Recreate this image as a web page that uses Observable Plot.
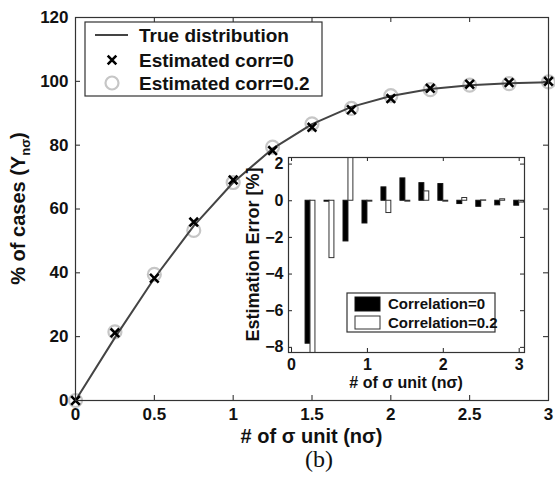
<!DOCTYPE html>
<html>
<head>
<meta charset="utf-8">
<script src="https://cdn.jsdelivr.net/npm/d3@7"></script>
<script src="https://cdn.jsdelivr.net/npm/@observablehq/plot@0.6"></script>
<style>
  body { margin: 0; background: #fff; }
  #wrap { position: relative; width: 555px; height: 493px; }
  #wrap svg { position: absolute; }
</style>
</head>
<body>
<div id="wrap"></div>
<script>
// Cumulative share of cases within n sigma: true curve and two estimates
const sigmaUnits = [0, 0.25, 0.5, 0.75, 1, 1.25, 1.5, 1.75, 2, 2.25, 2.5, 2.75, 3];
const trueDist   = [0, 19.7, 38.3, 54.7, 68.3, 78.9, 86.6, 92.0, 95.4, 97.6, 98.8, 99.4, 99.7];
const estCorr0   = [0, 21.2, 38.3, 55.9, 69.1, 78.3, 85.6, 91.1, 94.6, 97.8, 99.1, 99.6, 100.0];
const estCorr02  = [0, 21.5, 39.5, 53.3, 68.3, 79.4, 86.7, 91.5, 95.5, 97.4, 98.8, 99.3, 99.8];

// Estimation error (%) per sigma step
const errUnits  = [0.25, 0.5, 0.75, 1, 1.25, 1.5, 1.75, 2, 2.25, 2.5, 2.75, 3];
const errCorr0  = [-7.8, -0.05, -2.22, -1.24, 0.73, 1.22, 0.96, 0.91, -0.18, -0.33, -0.25, -0.27];
const errCorr02 = [-9.0, -3.13, 2.6, -0.05, -0.67, -0.05, 0.51, -0.05, 0.15, 0.02, 0.08, -0.1];

const mainXTicks  = [0, 0.5, 1, 1.5, 2, 2.5, 3];
const mainYTicks  = [0, 20, 40, 60, 80, 100, 120];
const insetXTicks = [0, 1, 2, 3];
const insetYTicks = [-8, -6, -4, -2, 0, 2];

const mainLegend  = ["True distribution", "Estimated corr=0", "Estimated corr=0.2"];
const insetLegend = ["Correlation=0", "Correlation=0.2"];

const FONT = "'Liberation Sans', Arial, Helvetica, sans-serif";
const wrap = document.getElementById("wrap");

// ---------- main chart ----------
const W = 555, H = 493, mL = 75, mR = 7, mT = 17, mB = 93;
const plotW = W - mL - mR, plotH = H - mT - mB;
const pts = sigmaUnits.map((x, i) => ({x, t: trueDist[i], e0: estCorr0[i], e2: estCorr02[i]}));

const main = Plot.plot({
  width: W, height: H,
  marginLeft: mL, marginRight: mR, marginTop: mT, marginBottom: mB,
  style: {fontFamily: FONT, fontWeight: "bold", background: "transparent", overflow: "visible", color: "#111"},
  x: {domain: [0, 3]},
  y: {domain: [0, 120]},
  marks: [
    Plot.axisX(mainXTicks, {tickSize: 0, tickPadding: 7, fontSize: 17, label: null, tickFormat: d => String(d)}),
    Plot.axisY(mainYTicks, {tickSize: 0, tickPadding: 7, fontSize: 17, label: null, tickFormat: d => String(d)}),
    // inward ticks on all four sides
    Plot.tickX(mainXTicks, {x: d => d, insetTop: plotH - 5, stroke: "#222"}),
    Plot.tickX(mainXTicks, {x: d => d, insetBottom: plotH - 5, stroke: "#222"}),
    Plot.tickY(mainYTicks, {y: d => d, insetRight: plotW - 5, stroke: "#222"}),
    Plot.tickY(mainYTicks, {y: d => d, insetLeft: plotW - 5, stroke: "#222"}),
    Plot.dot(pts, {x: "x", y: "e2", r: 6.5, stroke: "#c6c6c6", strokeWidth: 2.2}),
    Plot.line(pts, {x: "x", y: "t", stroke: "#444", strokeWidth: 2}),
    Plot.dot(pts, {x: "x", y: "e0", symbol: "times", r: 4, stroke: "#000", strokeWidth: 2.6}),
    Plot.frame({stroke: "#333", strokeWidth: 1.2})
  ]
});
main.style.left = "0px";
main.style.top = "0px";
wrap.appendChild(main);

const ms = d3.select(main);
// axis titles
const yl = ms.append("text")
  .attr("transform", `translate(25,${mT + plotH / 2}) rotate(-90)`)
  .attr("text-anchor", "middle")
  .attr("font-family", FONT).attr("font-weight", "bold").attr("font-size", 20).attr("fill", "#111");
yl.append("tspan").text("% of cases (Y");
yl.append("tspan").attr("font-size", 13).attr("dy", 5).text("nσ");
yl.append("tspan").attr("dy", -5).text(")");

ms.append("text")
  .attr("x", mL + plotW / 2).attr("y", 443)
  .attr("text-anchor", "middle")
  .attr("font-family", FONT).attr("font-weight", "bold").attr("font-size", 20).attr("fill", "#111")
  .text("# of σ unit (nσ)");

ms.append("text")
  .attr("x", 319).attr("y", 467)
  .attr("text-anchor", "middle")
  .attr("font-family", "'Liberation Serif', 'Times New Roman', serif")
  .attr("font-weight", "normal").attr("font-size", 24).attr("fill", "#111")
  .text("(b)");

// main legend
const lg = ms.append("g").attr("font-family", FONT).attr("font-weight", "bold")
  .attr("font-size", 19).attr("fill", "#111").attr("text-anchor", "start");
lg.append("rect").attr("x", 85).attr("y", 22).attr("width", 237).attr("height", 74)
  .attr("fill", "white").attr("stroke", "#333").attr("stroke-width", 1.2);
const rowsY = [35, 60, 83];
lg.append("line").attr("x1", 95).attr("x2", 128).attr("y1", rowsY[0]).attr("y2", rowsY[0])
  .attr("stroke", "#444").attr("stroke-width", 2);
lg.append("path").attr("d", d3.symbol(d3.symbolTimes, Math.PI * 16)())
  .attr("transform", `translate(112,${rowsY[1]})`).attr("fill", "none").attr("stroke", "#000").attr("stroke-width", 2.6);
lg.append("circle").attr("cx", 112).attr("cy", rowsY[2]).attr("r", 6.5)
  .attr("fill", "none").attr("stroke", "#c6c6c6").attr("stroke-width", 2.2);
mainLegend.forEach((t, i) => {
  lg.append("text").attr("x", 139).attr("y", rowsY[i] + 7).text(t);
});

// ---------- inset: estimation error bars ----------
const iW = 300, iH = 250, iL = 48, iR = 16, iT = 7, iB = 48;
const iPW = iW - iL - iR, iPH = iH - iT - iB;
const errRows = errUnits.map((x, i) => ({x, e0: errCorr0[i], e2: errCorr02[i]}));
const halfGroup = 0.065;

const inset = Plot.plot({
  width: iW, height: iH,
  marginLeft: iL, marginRight: iR, marginTop: iT, marginBottom: iB,
  style: {fontFamily: FONT, fontWeight: "bold", background: "transparent", overflow: "visible", color: "#111"},
  x: {domain: [-0.04, 3.07]},
  y: {domain: [-8.28, 2.36]},
  marks: [
    Plot.frame({fill: "white"}),
    Plot.rect(errRows, {x1: d => d.x - halfGroup, x2: d => d.x, y1: () => 0, y2: "e0",
      fill: "#000", stroke: "#111", strokeWidth: 1, clip: true}),
    Plot.rect(errRows, {x1: d => d.x, x2: d => d.x + halfGroup, y1: () => 0, y2: "e2",
      fill: "#fff", stroke: "#333", strokeWidth: 1, clip: true}),
    Plot.axisX(insetXTicks, {tickSize: 0, tickPadding: 6, fontSize: 16, label: null, tickFormat: d => String(d)}),
    Plot.axisY(insetYTicks, {tickSize: 0, tickPadding: 5, fontSize: 16, label: null}),
    Plot.tickX(insetXTicks, {x: d => d, insetTop: iPH - 4, stroke: "#222"}),
    Plot.tickX(insetXTicks, {x: d => d, insetBottom: iPH - 4, stroke: "#222"}),
    Plot.tickY(insetYTicks, {y: d => d, insetRight: iPW - 4, stroke: "#222"}),
    Plot.tickY(insetYTicks, {y: d => d, insetLeft: iPW - 4, stroke: "#222"}),
    Plot.frame({stroke: "#333", strokeWidth: 1.2})
  ]
});
inset.style.left = "240px";
inset.style.top = "150px";
wrap.appendChild(inset);

const is = d3.select(inset);
is.append("text")
  .attr("transform", `translate(19,${iT + iPH / 2}) rotate(-90)`)
  .attr("text-anchor", "middle")
  .attr("font-family", FONT).attr("font-weight", "bold").attr("font-size", 18).attr("fill", "#111")
  .text("Estimation Error [%]");
is.append("text")
  .attr("x", iL + iPW / 2).attr("y", 238)
  .attr("text-anchor", "middle")
  .attr("font-family", FONT).attr("font-weight", "bold").attr("font-size", 16).attr("fill", "#111")
  .text("# of σ unit (nσ)");

const ilg = is.append("g").attr("font-family", FONT).attr("font-weight", "bold")
  .attr("font-size", 15).attr("fill", "#111").attr("text-anchor", "start");
ilg.append("rect").attr("x", 107).attr("y", 143).attr("width", 148).attr("height", 39)
  .attr("fill", "white").attr("stroke", "#333").attr("stroke-width", 1.2);
ilg.append("rect").attr("x", 115).attr("y", 147).attr("width", 25).attr("height", 14)
  .attr("fill", "#000").attr("stroke", "#111");
ilg.append("rect").attr("x", 115).attr("y", 166).attr("width", 25).attr("height", 13)
  .attr("fill", "#fff").attr("stroke", "#333");
insetLegend.forEach((t, i) => {
  ilg.append("text").attr("x", 148).attr("y", [159, 178][i]).text(t);
});
</script>
</body>
</html>
